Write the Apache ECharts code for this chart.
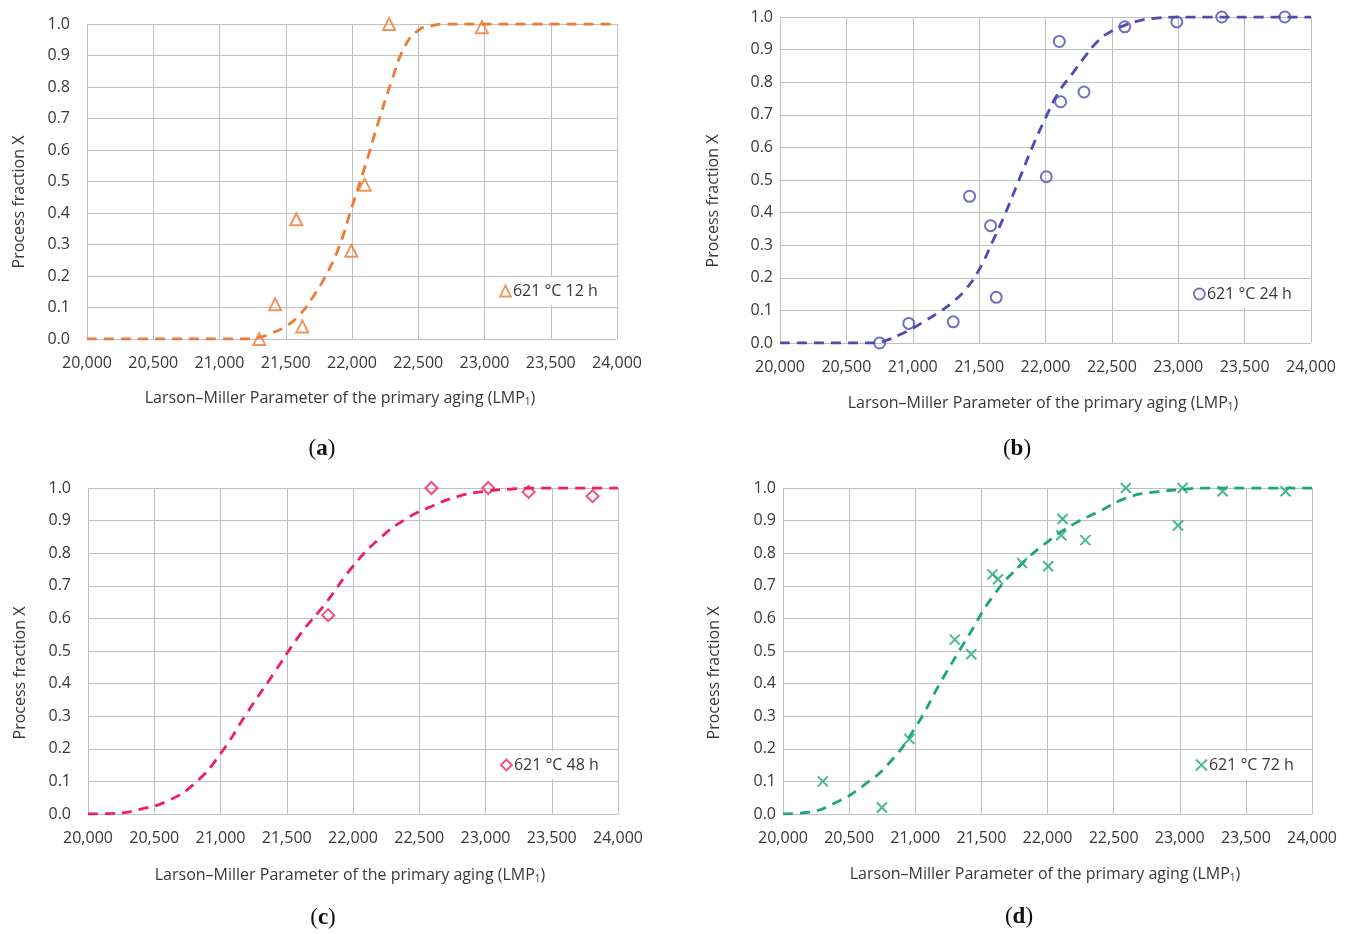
<!DOCTYPE html>
<html>
<head>
<meta charset="utf-8">
<script src="https://cdn.jsdelivr.net/npm/echarts@6/dist/echarts.min.js"></script>
<style>
html,body{margin:0;padding:0;background:#fff;}
#c{width:1352px;height:934px;}
</style>
</head>
<body>
<div id="c"></div>
<script>
// ---------- data ----------
const xTicks = [20000, 20500, 21000, 21500, 22000, 22500, 23000, 23500, 24000];
const yTicks = [0, 0.1, 0.2, 0.3, 0.4, 0.5, 0.6, 0.7, 0.8, 0.9, 1.0];

const nameA = '621 °C 12 h';
const lmpA = [21300, 21420, 21580, 21625, 21995, 22095, 22280, 22980];
const xA   = [0.0, 0.11, 0.38, 0.04, 0.28, 0.49, 1.0, 0.99];
const fitLmpA = [20000, 20500, 21000, 21200, 21300, 21400, 21500, 21600, 21700, 21800, 21900, 22000, 22100, 22200, 22300, 22400, 22500, 22600, 22700, 23000, 24000];
const fitXA   = [0, 0, 0, 0, 0.005, 0.02, 0.04, 0.075, 0.13, 0.2, 0.29, 0.42, 0.55, 0.69, 0.82, 0.93, 0.98, 0.995, 1, 1, 1];

const nameB = '621 °C 24 h';
const lmpB = [20750, 20970, 21305, 21428, 21586, 21629, 22006, 22104, 22114, 22290, 22597, 22989, 23328, 23803];
const xB   = [0.0, 0.06, 0.065, 0.45, 0.36, 0.14, 0.51, 0.925, 0.74, 0.77, 0.97, 0.985, 1.0, 1.0];
const fitLmpB = [20000, 20500, 20700, 20800, 20900, 21000, 21100, 21200, 21300, 21400, 21500, 21600, 21700, 21800, 21900, 22000, 22100, 22200, 22300, 22400, 22500, 22600, 22700, 22800, 23000, 24000];
const fitXB   = [0, 0, 0, 0.008, 0.025, 0.045, 0.07, 0.095, 0.125, 0.165, 0.225, 0.31, 0.4, 0.5, 0.6, 0.69, 0.77, 0.825, 0.88, 0.928, 0.957, 0.975, 0.988, 0.995, 1, 1];

const nameC = '621 °C 48 h';
const lmpC = [21813, 22592, 23021, 23325, 23808];
const xC   = [0.61, 1.0, 1.0, 0.988, 0.975];
const fitLmpC = [20000, 20200, 20400, 20600, 20800, 21000, 21200, 21400, 21600, 21800, 22000, 22200, 22400, 22600, 22800, 23000, 23200, 23400, 24000];
const fitXC   = [0, 0.002, 0.015, 0.04, 0.092, 0.185, 0.31, 0.43, 0.55, 0.65, 0.76, 0.845, 0.905, 0.945, 0.975, 0.99, 0.997, 1, 1];

const nameD = '621 °C 72 h';
const lmpD = [20301, 20748, 20956, 21299, 21423, 21584, 21626, 21808, 22005, 22104, 22114, 22286, 22592, 22987, 23021, 23325, 23800];
const xD   = [0.10, 0.02, 0.23, 0.535, 0.49, 0.735, 0.72, 0.77, 0.76, 0.855, 0.905, 0.84, 1.0, 0.885, 1.0, 0.99, 0.99];
const fitLmpD = [20000, 20200, 20400, 20600, 20800, 21000, 21200, 21400, 21600, 21800, 22000, 22200, 22400, 22600, 22800, 23000, 23200, 24000];
const fitXD   = [0, 0.006, 0.035, 0.085, 0.155, 0.265, 0.41, 0.545, 0.675, 0.765, 0.835, 0.89, 0.93, 0.97, 0.987, 0.995, 1, 1];

const captions = ['a', 'b', 'c', 'd'];
const xTitle = 'Larson\u2013Miller Parameter of the primary aging (LMP{sub|1})';
const yTitle = 'Process fraction X';

// ---------- styling / layout ----------
const FONT = 'Open Sans';
const TXT = '#383838';
const GRIDC = '#c0c0c0';
const colors = ['#ee7b33', '#4c4cb2', '#f0205a', '#1ea773'];
const crossPath = 'path://M0,0L10,10M10,0L0,10';

const panels = [
  {name: nameA, lmp: lmpA, x: xA, fl: fitLmpA, fx: fitXA, sym: 'triangle', size: 12,
   grid: {left: 87, top: 24, width: 530, height: 315}, leg: {left: 493, top: 277}, ym: 17,
   yt: [19, 202], xt: [340, 398], cap: [322, 449]},
  {name: nameB, lmp: lmpB, x: xB, fl: fitLmpB, fx: fitXB, sym: 'circle', size: 11,
   grid: {left: 780, top: 17, width: 531, height: 326}, leg: {left: 1187, top: 280}, ym: 7,
   yt: [713, 201], xt: [1043, 403], cap: [1017, 449]},
  {name: nameC, lmp: lmpC, x: xC, fl: fitLmpC, fx: fitXC, sym: 'diamond', size: 12,
   grid: {left: 88, top: 488, width: 530, height: 326}, leg: {left: 494, top: 751}, ym: 17,
   yt: [20, 673], xt: [350, 875], cap: [323, 918]},
  {name: nameD, lmp: lmpD, x: xD, fl: fitLmpD, fx: fitXD, sym: crossPath, size: 10,
   grid: {left: 783, top: 488, width: 529, height: 326}, leg: {left: 1189, top: 751}, ym: 7,
   yt: [714, 673], xt: [1045, 874], cap: [1019, 917]}
];

function fmtThousands(v) {
  const s = String(Math.round(v));
  return s.replace(/\B(?=(\d{3})+(?!\d))/g, ',');
}
function zip(a, b) { return a.map((v, i) => [v, b[i]]); }

const option = {
  backgroundColor: '#fff',
  animation: false,
  grid: [], xAxis: [], yAxis: [], series: [], legend: [], graphic: []
};

panels.forEach((p, i) => {
  const col = colors[i];
  option.grid.push(Object.assign({containLabel: false}, p.grid));
  option.xAxis.push({
    type: 'value', gridIndex: i, min: xTicks[0], max: xTicks[xTicks.length - 1], interval: 500,
    axisLine: {show: false}, axisTick: {show: false},
    splitLine: {show: true, lineStyle: {color: GRIDC, width: 1}},
    axisLabel: {formatter: fmtThousands, color: TXT, fontFamily: FONT, fontSize: 16, margin: 16}
  });
  option.yAxis.push({
    type: 'value', gridIndex: i, min: yTicks[0], max: yTicks[yTicks.length - 1], interval: 0.1,
    axisLine: {show: false}, axisTick: {show: false},
    splitLine: {show: true, lineStyle: {color: GRIDC, width: 1}},
    axisLabel: {formatter: v => v.toFixed(1), color: TXT, fontFamily: FONT, fontSize: 16, margin: p.ym}
  });
  option.series.push({
    type: 'line', xAxisIndex: i, yAxisIndex: i, name: p.name + ' fit',
    data: zip(p.fl, p.fx), smooth: 0.5, symbol: 'none',
    lineStyle: {color: col, width: 2.8, type: [10, 7]}, z: 2, silent: true
  });
  option.series.push({
    type: 'scatter', xAxisIndex: i, yAxisIndex: i, name: p.name,
    data: zip(p.lmp, p.x), symbol: p.sym, symbolSize: p.size,
    itemStyle: {color: 'rgba(255,255,255,0)', borderColor: col, borderWidth: 2},
    z: 3
  });
  option.legend.push({
    data: [{name: p.name, icon: p.sym,
            itemStyle: {color: 'rgba(255,255,255,0)', borderColor: col, borderWidth: 1.8}}],
    left: p.leg.left, top: p.leg.top, orient: 'horizontal',
    backgroundColor: '#fff', padding: [6, 6, 6, 6],
    itemWidth: 11, itemHeight: 11, itemGap: 0, selectedMode: false,
    textStyle: {color: TXT, fontFamily: FONT, fontSize: 16, padding: [0, 0, 0, -3]}
  });
  option.graphic.push({
    type: 'text', x: p.yt[0], y: p.yt[1], rotation: Math.PI / 2,
    style: {text: yTitle, fill: TXT, font: '16px "Open Sans"', align: 'center', verticalAlign: 'middle'}
  });
  option.graphic.push({
    type: 'text', x: p.xt[0], y: p.xt[1],
    style: {text: xTitle, fill: TXT, font: '16px "Open Sans"', align: 'center', verticalAlign: 'middle',
            rich: {sub: {fontSize: 10, fontFamily: FONT, fill: TXT, padding: [9, 0, 0, 0]}}}
  });
  option.graphic.push({
    type: 'text', x: p.cap[0], y: p.cap[1],
    style: {text: '{p|(}{b|' + captions[i] + '}{p|)}', align: 'center', verticalAlign: 'middle',
            rich: {p: {fontFamily: 'Liberation Serif', fontSize: 23, fill: '#111'},
                   b: {fontFamily: 'Liberation Serif', fontSize: 23, fontWeight: 'bold', fill: '#111'}}}
  });
});

const chart = echarts.init(document.getElementById('c'), null, {renderer: 'canvas'});
chart.setOption(option);
</script>
</body>
</html>
